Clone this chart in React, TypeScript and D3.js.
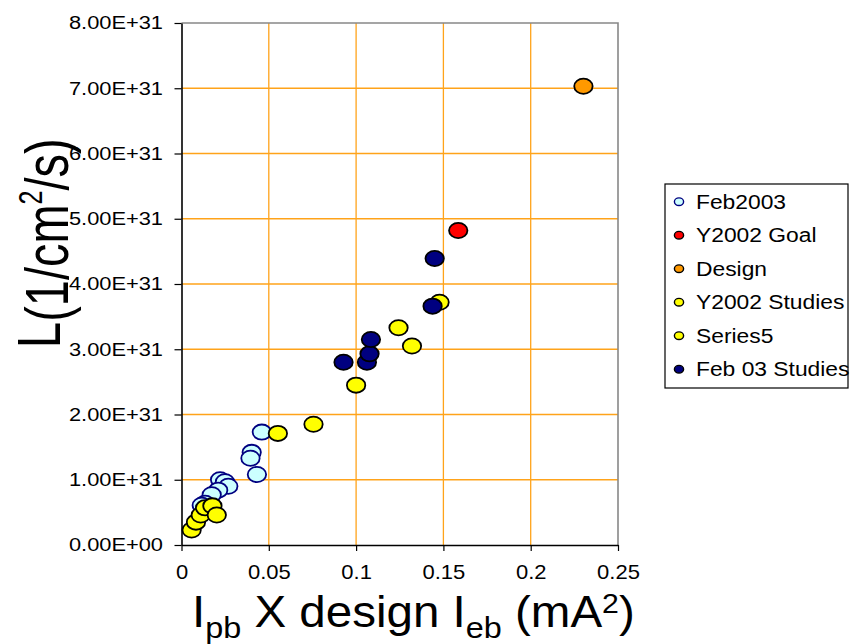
import React, { Component } from 'react';
import * as d3 from 'd3';

// series, in drawing order (legend order too)
const seriesNames = ['Feb2003', 'Y2002 Goal', 'Design', 'Y2002 Studies', 'Series5', 'Feb 03 Studies'];
const seriesFill = ['#ccffff', '#ff0000', '#ff9900', '#ffff00', '#ffff00', '#000080'];
const seriesStroke = ['#000080', '#000000', '#000000', '#000000', '#000000', '#000000'];

// [Ipb x design Ieb (mA^2), L (1/cm2/s)]
const feb2003 = [
    [0.046, 1.73e31], [0.0402, 1.42e31], [0.0395, 1.33e31], [0.0432, 1.08e31],
    [0.0221, 1.0e31], [0.0249, 0.97e31], [0.0268, 0.9e31], [0.021, 0.84e31],
    [0.0173, 0.77e31], [0.0135, 0.64e31], [0.0116, 0.61e31]
];
const y2002Goal = [[0.1585, 4.82e31]];
const design = [[0.2302, 7.03e31]];
const y2002Studies = [
    [0.0552, 1.71e31], [0.0756, 1.85e31], [0.1, 2.45e31],
    [0.1243, 3.33e31], [0.132, 3.05e31], [0.1478, 3.72e31]
];
const series5 = [
    [0.0058, 0.23e31], [0.0083, 0.35e31], [0.011, 0.46e31],
    [0.0135, 0.57e31], [0.0177, 0.6e31], [0.0202, 0.46e31]
];
const feb03Studies = [
    [0.0928, 2.8e31], [0.1062, 2.8e31], [0.1077, 2.93e31],
    [0.1085, 3.15e31], [0.1438, 3.66e31], [0.145, 4.39e31]
];

const xTicks = [0, 0.05, 0.1, 0.15, 0.2, 0.25];
const xTickLabels = ['0', '0.05', '0.1', '0.15', '0.2', '0.25'];
const yTicks = [0, 1e31, 2e31, 3e31, 4e31, 5e31, 6e31, 7e31, 8e31];
const yTickLabels = ['0.00E+00', '1.00E+31', '2.00E+31', '3.00E+31', '4.00E+31',
    '5.00E+31', '6.00E+31', '7.00E+31', '8.00E+31'];

const FONT = '"Liberation Sans", Arial, sans-serif';

class App extends Component {
    el: any;

    componentDidMount() {
        this.drawChart();
    }

    drawChart() {
        const allSeries = [feb2003, y2002Goal, design, y2002Studies, series5, feb03Studies];
        const plot = { left: 181.5, right: 618, top: 23, bottom: 545 };

        const x = d3.scaleLinear().domain([0, 0.25]).range([plot.left, plot.right]);
        const y = d3.scaleLinear().domain([0, 8e31]).range([plot.bottom, plot.top]);

        const svg = d3.select(this.el);
        svg.selectAll('*').remove();

        // grid
        svg.append('g')
            .selectAll('line')
            .data(xTicks.slice(1, -1))
            .enter()
            .append('line')
            .attr('x1', d => x(d)).attr('x2', d => x(d))
            .attr('y1', plot.top).attr('y2', plot.bottom)
            .attr('stroke', '#ffa31a').attr('stroke-width', 1.3);
        svg.append('g')
            .selectAll('line')
            .data(yTicks.slice(1, -1))
            .enter()
            .append('line')
            .attr('x1', plot.left).attr('x2', plot.right)
            .attr('y1', d => y(d)).attr('y2', d => y(d))
            .attr('stroke', '#ffa31a').attr('stroke-width', 1.3);

        // grey frame top + right
        svg.append('path')
            .attr('d', `M${plot.left},${plot.top}H${plot.right}V${plot.bottom}`)
            .attr('fill', 'none')
            .attr('stroke', '#888')
            .attr('stroke-width', 1.6);

        // axes
        const yAxis = svg.append('g')
            .attr('transform', `translate(${plot.left},0)`)
            .call(d3.axisLeft(y).tickValues(yTicks).tickSize(7).tickSizeOuter(0)
                .tickFormat((d, i) => yTickLabels[i]));
        const xAxis = svg.append('g')
            .attr('transform', `translate(0,${plot.bottom})`)
            .call(d3.axisBottom(x).tickValues(xTicks).tickSize(6).tickSizeOuter(0)
                .tickFormat((d, i) => xTickLabels[i]));

        [yAxis, xAxis].forEach(a => {
            a.select('.domain').attr('stroke', '#000').attr('stroke-width', 1.6);
            a.selectAll('.tick line').attr('stroke', '#000').attr('stroke-width', 1.2);
        });
        yAxis.selectAll('.tick text')
            .attr('x', -15.7)
            .attr('transform', 'scale(1.18,1)')
            .style('font-family', FONT)
            .style('font-size', '18.5px')
            .attr('fill', '#000');
        xAxis.selectAll('.tick text')
            .attr('y', 20)
            .attr('transform', 'scale(1.1,1)')
            .style('font-family', FONT)
            .style('font-size', '20px')
            .attr('fill', '#000');

        // markers
        allSeries.forEach((s, i) => {
            svg.append('g')
                .selectAll('ellipse')
                .data(s)
                .enter()
                .append('ellipse')
                .attr('cx', d => x(d[0]))
                .attr('cy', d => y(d[1]))
                .attr('rx', 9.2)
                .attr('ry', 7.6)
                .attr('fill', seriesFill[i])
                .attr('stroke', seriesStroke[i])
                .attr('stroke-width', 1.8);
        });

        // legend
        const legend = svg.append('g').attr('transform', 'translate(665,184)');
        legend.append('rect')
            .attr('width', 183).attr('height', 204)
            .attr('fill', '#fff').attr('stroke', '#000').attr('stroke-width', 1.2);
        const rows = legend.selectAll('g.row')
            .data(seriesNames)
            .enter()
            .append('g')
            .attr('class', 'row')
            .attr('transform', (d, i) => `translate(0,${17.7 + i * 33.5})`);
        rows.append('ellipse')
            .attr('cx', 14).attr('cy', 0).attr('rx', 4.6).attr('ry', 3.8)
            .attr('fill', (d, i) => seriesFill[i])
            .attr('stroke', (d, i) => seriesStroke[i])
            .attr('stroke-width', 1.4);
        rows.append('text')
            .attr('transform', 'translate(31,7) scale(1.17,1)')
            .style('font-family', FONT)
            .style('font-size', '19.5px')
            .attr('fill', '#000')
            .text(d => d);
    }

    render() {
        return <svg width={850} height={644} style={{ position: 'absolute', left: 0, top: 0, background: '#fff' }}>
            <g ref={el => this.el = el}></g>
            {/* y title */}
            <text transform="translate(60,348) rotate(-90) scale(1,1.3)"
                style={{ fontFamily: FONT, fontSize: 47 }} fill="#000">
                L<tspan dy={6.2}>(1/cm</tspan><tspan dy={-20} fontSize={25}>2</tspan><tspan dy={20}>/s)</tspan>
            </text>
            {/* x title */}
            <text transform="translate(192,627) scale(1.08,1)"
                style={{ fontFamily: FONT, fontSize: 44 }} fill="#000">
                I<tspan dy={11} fontSize={30}>pb</tspan><tspan dy={-11}> X design I</tspan><tspan dy={11} fontSize={30}>eb</tspan><tspan dy={-11}> (mA</tspan><tspan dy={-14} fontSize={28}>2</tspan><tspan dy={14}>)</tspan>
            </text>
        </svg>;
    }
}

export default App;
